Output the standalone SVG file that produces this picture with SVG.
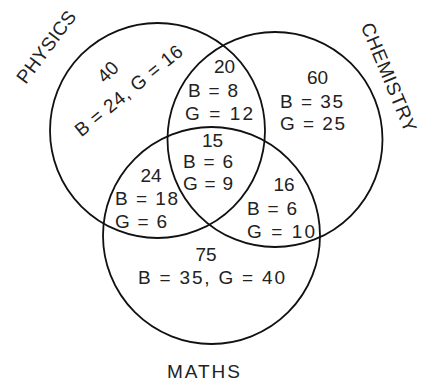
<svg xmlns="http://www.w3.org/2000/svg" width="422" height="381" viewBox="0 0 422 381">
<style>
.c{fill:none;stroke:#111;stroke-width:1.8}
text{font-family:"Liberation Sans",Arial,sans-serif;font-size:19px;fill:#222}
.m{text-anchor:middle}
</style>
<defs>
<path id="p-phys" d="M14,100.6 L89.2,0.8"/>
<path id="p-chem" d="M356.2,15.3 L409.8,144.7"/>
<path id="p-40" d="M91.3,97.7 L133.7,55.3"/>
<path id="p-bg" d="M67,148.9 L199,41.9"/>
</defs>
<rect width="422" height="381" fill="#fff"/>
<g id="circles">
<g id="physics-set"><circle class="c" cx="157.5" cy="130.5" r="107.5"/></g>
<g id="chemistry-set"><circle class="c" cx="275" cy="139.5" r="107.5"/></g>
<g id="maths-set"><circle class="c" cx="211.5" cy="235.5" r="108.5"/></g>
</g>
<g id="set-labels">
<text class="m" letter-spacing="0.3"><textPath href="#p-phys" startOffset="50%">PHYSICS</textPath></text>
<text class="m" letter-spacing="0.6"><textPath href="#p-chem" startOffset="50%">CHEMISTRY</textPath></text>
<text x="167" y="378" textLength="73" lengthAdjust="spacing">MATHS</text>
</g>
<g id="physics-only">
<text class="m"><textPath href="#p-40" startOffset="50%">40</textPath></text>
<text class="m" letter-spacing="0.7"><textPath href="#p-bg" startOffset="50%">B = 24, G = 16</textPath></text>
</g>
<g id="physics-chemistry">
<text class="m" x="224.5" y="73">20</text>
<text x="188" y="97" textLength="50" lengthAdjust="spacing">B = 8</text>
<text x="185" y="120" textLength="68" lengthAdjust="spacing">G = 12</text>
</g>
<g id="chemistry-only">
<text class="m" x="317.5" y="84">60</text>
<text x="280" y="108" textLength="63" lengthAdjust="spacing">B = 35</text>
<text x="280" y="130" textLength="65" lengthAdjust="spacing">G = 25</text>
</g>
<g id="all-three">
<text class="m" x="212.5" y="147">15</text>
<text x="183" y="168" textLength="50" lengthAdjust="spacing">B = 6</text>
<text x="183" y="190" textLength="50" lengthAdjust="spacing">G = 9</text>
</g>
<g id="physics-maths">
<text class="m" x="151" y="182">24</text>
<text x="115" y="205" textLength="63" lengthAdjust="spacing">B = 18</text>
<text x="115" y="228" textLength="52" lengthAdjust="spacing">G = 6</text>
</g>
<g id="chemistry-maths">
<text class="m" x="284" y="191">16</text>
<text x="247" y="215" textLength="50" lengthAdjust="spacing">B = 6</text>
<text x="247" y="238" textLength="68" lengthAdjust="spacing">G = 10</text>
</g>
<g id="maths-only">
<text class="m" x="206" y="261">75</text>
<text x="138" y="284" textLength="147" lengthAdjust="spacing">B = 35, G = 40</text>
</g>
<g id="connectors"></g>
</svg>
